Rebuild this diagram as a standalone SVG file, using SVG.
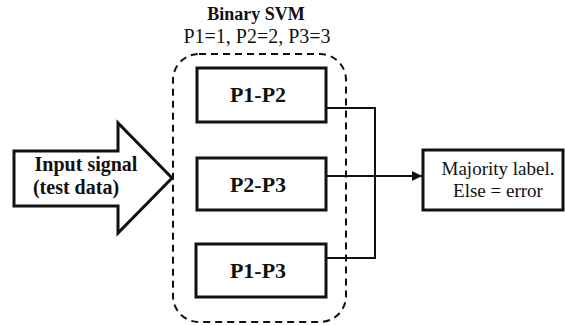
<svg xmlns="http://www.w3.org/2000/svg" width="565" height="325" viewBox="0 0 565 325">
<style>
.box{fill:#fff;stroke:#111;stroke-width:3}
.b{font-family:"Liberation Serif","Times New Roman",serif;font-weight:700;fill:#111;text-anchor:middle}
.r{font-family:"Liberation Serif","Times New Roman",serif;fill:#111;text-anchor:middle}
.ln{fill:none;stroke:#111;stroke-width:2}
</style>
<defs>
<marker id="ah" viewBox="0 0 10 10" refX="10" refY="5" markerWidth="10" markerHeight="10" markerUnits="userSpaceOnUse" orient="auto">
<path d="M0,0 L10,5 L0,10 z" fill="#111"/>
</marker>
</defs>
<text class="b" x="256" y="20" font-size="18">Binary SVM</text>
<text class="r" x="257" y="43" font-size="20">P1=1, P2=2, P3=3</text>
<g id="input">
<polygon class="box" points="14,151 118,151 118,123 172,178 118,233 118,206 14,206"/>
<text class="b" x="86" y="171" font-size="20">Input signal</text>
<text class="b" x="76" y="194" font-size="20">(test data)</text>
</g>
<g id="svm-group">
<rect x="173" y="54" width="173" height="268" rx="26" ry="26" fill="none" stroke="#111" stroke-width="2" stroke-dasharray="7,5"/>
</g>
<g id="connectors">
<polyline class="ln" points="326,108 375,108 375,258 326,258"/>
<line class="ln" x1="326" y1="176" x2="422" y2="176" marker-end="url(#ah)"/>
</g>
<g id="p1p2">
<rect class="box" x="197" y="68" width="129" height="54"/>
<text class="b" x="258" y="102" font-size="22">P1-P2</text>
</g>
<g id="p2p3">
<rect class="box" x="197" y="158" width="129" height="52"/>
<text class="b" x="258" y="192" font-size="22">P2-P3</text>
</g>
<g id="p1p3">
<rect class="box" x="196" y="244" width="130" height="53"/>
<text class="b" x="258" y="278" font-size="22">P1-P3</text>
</g>
<g id="majority">
<rect class="box" x="423" y="150" width="140" height="60"/>
<text class="r" x="498" y="175" font-size="19">Majority label.</text>
<text class="r" x="498" y="197" font-size="19">Else = error</text>
</g>
</svg>
